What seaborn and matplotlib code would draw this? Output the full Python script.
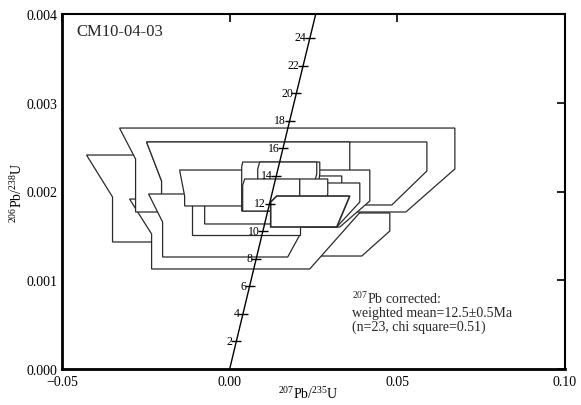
import numpy as np
import pandas as pd
import matplotlib
matplotlib.use("Agg")
import matplotlib.pyplot as plt
from matplotlib.patches import Polygon
import seaborn as sns

# --- spot error polygons (207Pb/235U on x, 206Pb/238U on y), listed back to front ---
# hexagon corners: top-left, top-right, right knee, bottom-right, bottom-left, left knee
top_left_x = [-0.04269, 0.00299, -0.02985, -0.03284, -0.02478, -0.02478, 0.00597, -0.02418,
              -0.01254, -0.00806, -0.01493, 0.01493, 0.00388, 0.00896, 0.02239, 0.00448,
              0.02090, 0.01403]
top_y = [0.002411, 0.001758, 0.001915, 0.002715, 0.002558, 0.002558, 0.002242, 0.001972,
         0.001915, 0.001915, 0.002242, 0.002175, 0.002332, 0.002332, 0.002096, 0.002141,
         0.002141, 0.001949]
right_x = [0.02090, 0.04776, 0.04239, 0.06716, 0.05881, 0.03582, 0.04179, 0.02090,
           0.02090, 0.02090, 0.01791, 0.03343, 0.02687, 0.02597, 0.03881, 0.02090,
           0.02925, 0.03582]
right_knee_y = [0.002028, 0.001555, 0.001915, 0.002254, 0.002231, 0.002141, 0.001893, 0.001510,
                0.001600, 0.001803, 0.002141, 0.002028, 0.002197, 0.002197, 0.001882, 0.001949,
                0.001972, 0.001949]
bottom_right_x = [0.01791, 0.03940, 0.02388, 0.05254, 0.04836, 0.03134, 0.03284, 0.01731,
                  0.02090, 0.01791, 0.01493, 0.03134, 0.02537, 0.02388, 0.03194, 0.02030,
                  0.02836, 0.03194]
bottom_y = [0.001431, 0.001273, 0.001127, 0.001769, 0.001848, 0.001915, 0.001600, 0.001262,
            0.001510, 0.001634, 0.001837, 0.001915, 0.001780, 0.001915, 0.001600, 0.001780,
            0.001859, 0.001600]
left_x = [-0.03493, 0.00597, -0.02328, -0.02806, -0.02030, -0.02030, 0.00746, -0.02000,
          -0.01134, -0.00746, -0.01343, 0.01552, 0.00358, 0.00836, 0.02269, 0.00388,
          0.02090, 0.01224]
left_knee_y = [0.001938, 0.001634, 0.001521, 0.002366, 0.002118, 0.002118, 0.002141, 0.001656,
               0.001859, 0.001837, 0.001949, 0.002085, 0.002276, 0.002254, 0.002028, 0.002073,
               0.002118, 0.001882]

# --- concordia age marks (Ma) and decay constants (1/yr) ---
concordia_ages = [2, 4, 6, 8, 10, 12, 14, 16, 18, 20, 22, 24]
lambda_238 = 1.55125e-10
lambda_235 = 9.8485e-10

x_ticks = [-0.05, 0.00, 0.05, 0.10]
x_tick_labels = ["\u22120.05", "0.00", "0.05", "0.10"]
y_ticks = [0.000, 0.001, 0.002, 0.003, 0.004]
y_tick_labels = ["0.000", "0.001", "0.002", "0.003", "0.004"]

sample_name = "CM10-04-03"
result_lines = ["$^{207}$Pb corrected:",
                "weighted mean=12.5\u00b10.5Ma",
                "(n=23, chi square=0.51)"]

sns.set_theme(style="white")
plt.rcParams["font.family"] = ["Liberation Serif", "DejaVu Serif"]
plt.rcParams["mathtext.fontset"] = "custom"
plt.rcParams["mathtext.rm"] = "Liberation Serif"
plt.rcParams["mathtext.it"] = "Liberation Serif:italic"
plt.rcParams["mathtext.bf"] = "Liberation Serif:bold"

fig = plt.figure(figsize=(5.81, 4.06), dpi=100)
ax = fig.add_axes([62 / 581, 1 - 370 / 406, (565 - 62) / 581, (370 - 15) / 406])

line_col = "#2a2a2a"
n_poly = len(top_y)
for i in range(n_poly):
    verts = [(top_left_x[i], top_y[i]), (right_x[i], top_y[i]),
             (right_x[i], right_knee_y[i]), (bottom_right_x[i], bottom_y[i]),
             (left_x[i], bottom_y[i]), (left_x[i], left_knee_y[i])]
    lw = 1.2 if i == n_poly - 1 else 0.9
    ax.add_patch(Polygon(verts, closed=True, facecolor="white", edgecolor=line_col,
                         linewidth=lw, joinstyle="miter", zorder=2 + i))

# concordia curve
t = np.linspace(0, 27e6, 300)
curve = pd.DataFrame({"x": np.expm1(lambda_235 * t), "y": np.expm1(lambda_238 * t)})
sns.lineplot(data=curve, x="x", y="y", sort=False, color="black", linewidth=1.0,
             ax=ax, zorder=50)

ages = np.array(concordia_ages, dtype=float) * 1e6
mx = np.expm1(lambda_235 * ages)
my = np.expm1(lambda_238 * ages)
ax.plot(mx, my, linestyle="none", marker="_", markersize=7, markeredgewidth=1.0,
        color="black", zorder=51)
for a, xx, yy in zip(concordia_ages, mx, my):
    ax.annotate(str(a), (xx, yy), xytext=(-2.5, 0.5), textcoords="offset points",
                ha="right", va="center", fontsize=8.5, color="black", zorder=52)

ax.set_xlim(-0.05, 0.10)
ax.set_ylim(0.0, 0.004)
ax.set_xticks(x_ticks)
ax.set_xticklabels(x_tick_labels)
ax.set_yticks(y_ticks)
ax.set_yticklabels(y_tick_labels)
ax.tick_params(direction="in", length=6, width=1.2, top=True, right=True,
               labelsize=10, pad=4, colors="black")
ax.tick_params(axis="y", pad=3)
for side, spine in ax.spines.items():
    spine.set_visible(True)
    spine.set_color("black")
    spine.set_linewidth(1.5)
ax.spines["left"].set_linewidth(2.0)
ax.spines["bottom"].set_linewidth(2.0)

ax.set_xlabel("$^{207}$Pb/$^{235}$U", fontsize=10, color="black")
ax.xaxis.set_label_coords(0.49, -0.045)
ax.set_ylabel("$^{206}$Pb/$^{238}$U", fontsize=10, color="black")
ax.yaxis.set_label_coords((25 - 62) / 503, 0.5)

ax.text(-0.0457, 0.00381, sample_name, fontsize=12, ha="left", va="center", zorder=60)
for line, yv in zip(result_lines, [0.00080, 0.000642, 0.000485]):
    ax.text(0.0364, yv, line, fontsize=10, ha="left", va="center", zorder=60)

fig.savefig("out.png", dpi=100)
